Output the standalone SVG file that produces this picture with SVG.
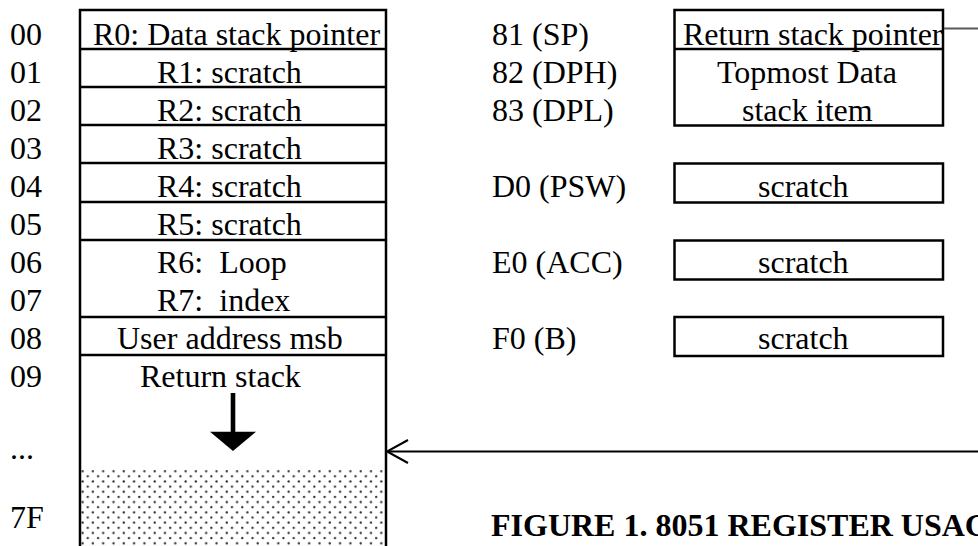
<svg xmlns="http://www.w3.org/2000/svg" width="978" height="546" viewBox="0 0 978 546">
  <style>
    text { font-family: "Liberation Serif", "Times New Roman", serif; font-size: 32px; fill: #000; }
    .pre { white-space: pre; }
    .bold { font-weight: bold; }
    .box { fill: none; stroke: #000; stroke-width: 2.5; }
    .div { stroke: #000; stroke-width: 2.5; }
  </style>
  <defs>
    <pattern id="dots" patternUnits="userSpaceOnUse" x="80" y="466" width="10.3" height="10.3">
      <circle cx="2.6" cy="5.2" r="1.15" fill="#2a2a2a"/>
      <circle cx="7.75" cy="0" r="1.15" fill="#2a2a2a"/>
      <circle cx="7.75" cy="10.3" r="1.15" fill="#2a2a2a"/>
    </pattern>
  </defs>
  <rect width="978" height="546" fill="#fff"/>

  <g id="address-labels">
    <text x="10" y="45">00</text>
    <text x="10" y="83">01</text>
    <text x="10" y="121">02</text>
    <text x="10" y="159">03</text>
    <text x="10" y="197">04</text>
    <text x="10" y="235">05</text>
    <text x="10" y="273">06</text>
    <text x="10" y="311">07</text>
    <text x="10" y="349">08</text>
    <text x="10" y="387">09</text>
    <text x="10" y="459">...</text>
    <text x="10" y="528">7F</text>
  </g>

  <g id="internal-ram">
    <rect x="81" y="470" width="304" height="80" fill="url(#dots)"/>
    <path class="box" d="M80,560 V10 H386 V560"/>
    <line class="div" x1="80" y1="49" x2="386" y2="49"/>
    <line class="div" x1="80" y1="87" x2="386" y2="87"/>
    <line class="div" x1="80" y1="125" x2="386" y2="125"/>
    <line class="div" x1="80" y1="163" x2="386" y2="163"/>
    <line class="div" x1="80" y1="202" x2="386" y2="202"/>
    <line class="div" x1="80" y1="240" x2="386" y2="240"/>
    <line class="div" x1="80" y1="317" x2="386" y2="317"/>
    <line class="div" x1="80" y1="355" x2="386" y2="355"/>
    <text x="93" y="45">R0: Data stack pointer</text>
    <text x="157" y="83">R1: scratch</text>
    <text x="157" y="121">R2: scratch</text>
    <text x="157" y="159">R3: scratch</text>
    <text x="157" y="197">R4: scratch</text>
    <text x="157" y="235">R5: scratch</text>
    <text class="pre" x="157" y="273">R6:  Loop</text>
    <text class="pre" x="157" y="311">R7:  index</text>
    <text x="117" y="349">User address msb</text>
    <text x="140" y="387">Return stack</text>
    <g id="growth-arrow">
      <rect x="230.7" y="393" width="4.6" height="40" fill="#000"/>
      <polygon points="210,431.7 256,431.7 233,451" fill="#000"/>
    </g>
  </g>

  <g id="sfr-labels">
    <text x="492" y="45">81 (SP)</text>
    <text x="492" y="83">82 (DPH)</text>
    <text x="492" y="121">83 (DPL)</text>
    <text x="492" y="197">D0 (PSW)</text>
    <text x="492" y="273">E0 (ACC)</text>
    <text x="492" y="349">F0 (B)</text>
  </g>

  <g id="sp-dptr">
    <rect class="box" x="674.5" y="10" width="268.5" height="115.5"/>
    <line class="div" x1="674.5" y1="49" x2="943" y2="49"/>
    <text x="683" y="45">Return stack pointer</text>
    <text x="717" y="83">Topmost Data</text>
    <text x="742" y="121">stack item</text>
  </g>

  <g id="psw">
    <rect class="box" x="674.5" y="163.5" width="268.5" height="39"/>
    <text x="758" y="197">scratch</text>
  </g>
  <g id="acc">
    <rect class="box" x="674.5" y="240.5" width="268.5" height="39"/>
    <text x="758" y="273">scratch</text>
  </g>
  <g id="b-reg">
    <rect class="box" x="674.5" y="317" width="268.5" height="39"/>
    <text x="758" y="349">scratch</text>
  </g>

  <g id="connectors">
    <line x1="944" y1="28.5" x2="980" y2="28.5" stroke="#5a5a5a" stroke-width="2"/>
    <line x1="388" y1="451.5" x2="980" y2="451.5" stroke="#000" stroke-width="1.8"/>
    <polyline points="408,440 387,451.5 408,463" fill="none" stroke="#000" stroke-width="2"/>
  </g>

  <g id="caption">
    <text class="bold" x="491" y="536">FIGURE 1. 8051 REGISTER USAGE</text>
  </g>
</svg>
